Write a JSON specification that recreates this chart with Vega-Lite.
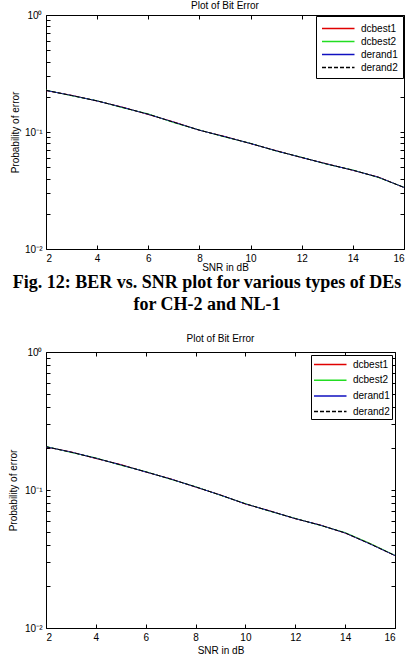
{
  "$schema": "https://vega.github.io/schema/vega-lite/v6.json",
  "padding": {"left": 8, "right": 4, "top": 0, "bottom": 0},
  "background": "white",
  "bounds": "flush",
  "spacing": 10,
  "config": {
    "font": "Liberation Sans",
    "view": {"stroke": "black", "strokeWidth": 1},
    "axis": {"grid": false, "domain": false, "ticks": true, "tickColor": "black", "tickSize": 4, "offset": -4, "labelColor": "black", "titleColor": "black", "labelFont": "Liberation Sans", "titleFont": "Liberation Sans", "labelFontSize": 10, "titleFontSize": 10, "titleFontWeight": "normal", "labelPadding": 4, "titlePadding": 2},
    "title": {"font": "Liberation Sans", "fontSize": 10, "fontWeight": "normal", "color": "black"},
    "legend": {"title": null, "orient": "top-right", "offset": 1, "symbolType": "M-1,0H4", "symbolSize": 169, "symbolStrokeWidth": 1.5, "labelOffset": 25, "labelFont": "Liberation Sans", "labelFontSize": 10, "labelColor": "black", "strokeColor": "black", "fillColor": "white", "padding": 5, "rowPadding": 0, "labelLimit": 100}
  },
  "datasets": {
    "top": [
      {"snr": 2, "ber": 0.226, "series": "dcbest1"}, {"snr": 3, "ber": 0.206, "series": "dcbest1"}, {"snr": 4, "ber": 0.184, "series": "dcbest1"}, {"snr": 5, "ber": 0.163, "series": "dcbest1"}, {"snr": 6, "ber": 0.141, "series": "dcbest1"}, {"snr": 7, "ber": 0.122, "series": "dcbest1"}, {"snr": 8, "ber": 0.1035, "series": "dcbest1"}, {"snr": 9, "ber": 0.0915, "series": "dcbest1"}, {"snr": 10, "ber": 0.0795, "series": "dcbest1"}, {"snr": 11, "ber": 0.0693, "series": "dcbest1"}, {"snr": 12, "ber": 0.0604, "series": "dcbest1"}, {"snr": 13, "ber": 0.0534, "series": "dcbest1"}, {"snr": 14, "ber": 0.047, "series": "dcbest1"}, {"snr": 15, "ber": 0.0412, "series": "dcbest1"}, {"snr": 16, "ber": 0.0335, "series": "dcbest1"},
      {"snr": 2, "ber": 0.228, "series": "dcbest2"}, {"snr": 3, "ber": 0.204, "series": "dcbest2"}, {"snr": 4, "ber": 0.185, "series": "dcbest2"}, {"snr": 5, "ber": 0.161, "series": "dcbest2"}, {"snr": 6, "ber": 0.143, "series": "dcbest2"}, {"snr": 7, "ber": 0.12, "series": "dcbest2"}, {"snr": 8, "ber": 0.104, "series": "dcbest2"}, {"snr": 9, "ber": 0.0905, "series": "dcbest2"}, {"snr": 10, "ber": 0.08, "series": "dcbest2"}, {"snr": 11, "ber": 0.0688, "series": "dcbest2"}, {"snr": 12, "ber": 0.0608, "series": "dcbest2"}, {"snr": 13, "ber": 0.0529, "series": "dcbest2"}, {"snr": 14, "ber": 0.0474, "series": "dcbest2"}, {"snr": 15, "ber": 0.0408, "series": "dcbest2"}, {"snr": 16, "ber": 0.0337, "series": "dcbest2"},
      {"snr": 2, "ber": 0.2265, "series": "derand1"}, {"snr": 3, "ber": 0.2055, "series": "derand1"}, {"snr": 4, "ber": 0.1842, "series": "derand1"}, {"snr": 5, "ber": 0.1625, "series": "derand1"}, {"snr": 6, "ber": 0.1415, "series": "derand1"}, {"snr": 7, "ber": 0.1215, "series": "derand1"}, {"snr": 8, "ber": 0.1036, "series": "derand1"}, {"snr": 9, "ber": 0.0912, "series": "derand1"}, {"snr": 10, "ber": 0.0797, "series": "derand1"}, {"snr": 11, "ber": 0.0691, "series": "derand1"}, {"snr": 12, "ber": 0.0605, "series": "derand1"}, {"snr": 13, "ber": 0.0532, "series": "derand1"}, {"snr": 14, "ber": 0.0471, "series": "derand1"}, {"snr": 15, "ber": 0.0411, "series": "derand1"}, {"snr": 16, "ber": 0.0336, "series": "derand1"},
      {"snr": 2, "ber": 0.227, "series": "derand2"}, {"snr": 3, "ber": 0.205, "series": "derand2"}, {"snr": 4, "ber": 0.1845, "series": "derand2"}, {"snr": 5, "ber": 0.162, "series": "derand2"}, {"snr": 6, "ber": 0.142, "series": "derand2"}, {"snr": 7, "ber": 0.121, "series": "derand2"}, {"snr": 8, "ber": 0.1037, "series": "derand2"}, {"snr": 9, "ber": 0.091, "series": "derand2"}, {"snr": 10, "ber": 0.0798, "series": "derand2"}, {"snr": 11, "ber": 0.069, "series": "derand2"}, {"snr": 12, "ber": 0.0606, "series": "derand2"}, {"snr": 13, "ber": 0.0531, "series": "derand2"}, {"snr": 14, "ber": 0.0472, "series": "derand2"}, {"snr": 15, "ber": 0.041, "series": "derand2"}, {"snr": 16, "ber": 0.0336, "series": "derand2"}
    ],
    "bottom": [
      {"snr": 2, "ber": 0.205, "series": "dcbest1"}, {"snr": 3, "ber": 0.189, "series": "dcbest1"}, {"snr": 4, "ber": 0.169, "series": "dcbest1"}, {"snr": 5, "ber": 0.153, "series": "dcbest1"}, {"snr": 6, "ber": 0.135, "series": "dcbest1"}, {"snr": 7, "ber": 0.1205, "series": "dcbest1"}, {"snr": 8, "ber": 0.105, "series": "dcbest1"}, {"snr": 9, "ber": 0.0921, "series": "dcbest1"}, {"snr": 10, "ber": 0.0791, "series": "dcbest1"}, {"snr": 11, "ber": 0.0705, "series": "dcbest1"}, {"snr": 12, "ber": 0.0619, "series": "dcbest1"}, {"snr": 13, "ber": 0.0558, "series": "dcbest1"}, {"snr": 14, "ber": 0.0487, "series": "dcbest1"}, {"snr": 15, "ber": 0.0409, "series": "dcbest1"}, {"snr": 16, "ber": 0.0334, "series": "dcbest1"},
      {"snr": 2, "ber": 0.207, "series": "dcbest2"}, {"snr": 3, "ber": 0.187, "series": "dcbest2"}, {"snr": 4, "ber": 0.171, "series": "dcbest2"}, {"snr": 5, "ber": 0.151, "series": "dcbest2"}, {"snr": 6, "ber": 0.136, "series": "dcbest2"}, {"snr": 7, "ber": 0.1195, "series": "dcbest2"}, {"snr": 8, "ber": 0.1058, "series": "dcbest2"}, {"snr": 9, "ber": 0.0915, "series": "dcbest2"}, {"snr": 10, "ber": 0.0797, "series": "dcbest2"}, {"snr": 11, "ber": 0.0699, "series": "dcbest2"}, {"snr": 12, "ber": 0.0623, "series": "dcbest2"}, {"snr": 13, "ber": 0.0554, "series": "dcbest2"}, {"snr": 14, "ber": 0.0492, "series": "dcbest2"}, {"snr": 15, "ber": 0.0411, "series": "dcbest2"}, {"snr": 16, "ber": 0.0336, "series": "dcbest2"},
      {"snr": 2, "ber": 0.2055, "series": "derand1"}, {"snr": 3, "ber": 0.1885, "series": "derand1"}, {"snr": 4, "ber": 0.1698, "series": "derand1"}, {"snr": 5, "ber": 0.1522, "series": "derand1"}, {"snr": 6, "ber": 0.1352, "series": "derand1"}, {"snr": 7, "ber": 0.1202, "series": "derand1"}, {"snr": 8, "ber": 0.1052, "series": "derand1"}, {"snr": 9, "ber": 0.0919, "series": "derand1"}, {"snr": 10, "ber": 0.0793, "series": "derand1"}, {"snr": 11, "ber": 0.0703, "series": "derand1"}, {"snr": 12, "ber": 0.062, "series": "derand1"}, {"snr": 13, "ber": 0.0557, "series": "derand1"}, {"snr": 14, "ber": 0.0488, "series": "derand1"}, {"snr": 15, "ber": 0.0406, "series": "derand1"}, {"snr": 16, "ber": 0.0335, "series": "derand1"},
      {"snr": 2, "ber": 0.206, "series": "derand2"}, {"snr": 3, "ber": 0.188, "series": "derand2"}, {"snr": 4, "ber": 0.17, "series": "derand2"}, {"snr": 5, "ber": 0.152, "series": "derand2"}, {"snr": 6, "ber": 0.1355, "series": "derand2"}, {"snr": 7, "ber": 0.12, "series": "derand2"}, {"snr": 8, "ber": 0.1054, "series": "derand2"}, {"snr": 9, "ber": 0.0918, "series": "derand2"}, {"snr": 10, "ber": 0.0794, "series": "derand2"}, {"snr": 11, "ber": 0.0702, "series": "derand2"}, {"snr": 12, "ber": 0.0621, "series": "derand2"}, {"snr": 13, "ber": 0.0556, "series": "derand2"}, {"snr": 14, "ber": 0.0489, "series": "derand2"}, {"snr": 15, "ber": 0.0407, "series": "derand2"}, {"snr": 16, "ber": 0.0335, "series": "derand2"}
    ],
    "caption": [
      {"line": 1, "text": "Fig. 12: BER vs. SNR plot for various types of DEs"},
      {"line": 2, "text": "for CH-2 and NL-1"}
    ]
  },
  "vconcat": [
    {
      "width": 358,
      "height": 234,
      "title": {"text": "Plot of Bit Error", "offset": -1},
      "data": {"name": "top"},
      "layer": [
        {
          "mark": {"type": "line", "strokeWidth": 1},
          "encoding": {
            "x": {"field": "snr", "type": "quantitative", "scale": {"domain": [2, 16], "nice": false}, "axis": {"values": [2, 4, 6, 8, 10, 12, 14, 16], "title": "SNR in dB", "titlePadding": -1}},
            "y": {"field": "ber", "type": "quantitative", "scale": {"type": "log", "domain": [0.01, 1], "nice": false}, "axis": {"values": [0.01, 0.02, 0.03, 0.04, 0.05, 0.06, 0.07, 0.08, 0.09, 0.1, 0.2, 0.3, 0.4, 0.5, 0.6, 0.7, 0.8, 0.9, 1], "labelExpr": "datum.value == 1 ? '10⁰' : datum.value == 0.1 ? '10⁻¹' : datum.value == 0.01 ? '10⁻²' : ''", "title": "Probability of error", "titlePadding": 4}},
            "color": {"field": "series", "type": "nominal", "scale": {"domain": ["dcbest1", "dcbest2", "derand1", "derand2"], "range": ["#e00000", "#22dd22", "#1010c0", "#000000"]}},
            "strokeDash": {"field": "series", "type": "nominal", "scale": {"domain": ["dcbest1", "dcbest2", "derand1", "derand2"], "range": [[1, 0], [1, 0], [1, 0], [4, 2]]}}
          }
        },
        {
          "mark": {"type": "line", "opacity": 0},
          "encoding": {
            "x": {"field": "snr", "type": "quantitative", "scale": {"domain": [2, 16], "nice": false}, "axis": {"orient": "top", "values": [2, 4, 6, 8, 10, 12, 14, 16], "labels": false, "title": null}},
            "y": {"field": "ber", "type": "quantitative", "scale": {"type": "log", "domain": [0.01, 1], "nice": false}, "axis": {"orient": "right", "values": [0.01, 0.02, 0.03, 0.04, 0.05, 0.06, 0.07, 0.08, 0.09, 0.1, 0.2, 0.3, 0.4, 0.5, 0.6, 0.7, 0.8, 0.9, 1], "labels": false, "title": null}}
          }
        }
      ],
      "resolve": {"axis": {"x": "independent", "y": "independent"}}
    },
    {
      "width": 322,
      "height": 83,
      "view": {"stroke": null},
      "data": {"name": "caption"},
      "mark": {"type": "text", "font": "Liberation Serif", "fontSize": 18, "fontWeight": "bold", "color": "black", "baseline": "middle"},
      "encoding": {
        "y": {"field": "line", "type": "quantitative", "scale": {"domain": [-0.0909, 3.6818], "reverse": true, "nice": false, "zero": false}, "axis": null},
        "text": {"field": "text"}
      }
    },
    {
      "width": 349,
      "height": 276,
      "title": {"text": "Plot of Bit Error", "offset": 3},
      "data": {"name": "bottom"},
      "layer": [
        {
          "mark": {"type": "line", "strokeWidth": 1},
          "encoding": {
            "x": {"field": "snr", "type": "quantitative", "scale": {"domain": [2, 16], "nice": false}, "axis": {"values": [2, 4, 6, 8, 10, 12, 14, 16], "title": "SNR in dB", "titlePadding": 3}},
            "y": {"field": "ber", "type": "quantitative", "scale": {"type": "log", "domain": [0.01, 1], "nice": false}, "axis": {"values": [0.01, 0.02, 0.03, 0.04, 0.05, 0.06, 0.07, 0.08, 0.09, 0.1, 0.2, 0.3, 0.4, 0.5, 0.6, 0.7, 0.8, 0.9, 1], "labelExpr": "datum.value == 1 ? '10⁰' : datum.value == 0.1 ? '10⁻¹' : datum.value == 0.01 ? '10⁻²' : ''", "title": "Probability of error", "titlePadding": 6}},
            "color": {"field": "series", "type": "nominal", "scale": {"domain": ["dcbest1", "dcbest2", "derand1", "derand2"], "range": ["#e00000", "#22dd22", "#1010c0", "#000000"]}, "legend": {"rowPadding": 2.7, "offset": 3, "padding": 2}},
            "strokeDash": {"field": "series", "type": "nominal", "scale": {"domain": ["dcbest1", "dcbest2", "derand1", "derand2"], "range": [[1, 0], [1, 0], [1, 0], [4, 2]]}, "legend": {"rowPadding": 2.7, "offset": 3, "padding": 2}}
          }
        },
        {
          "mark": {"type": "line", "opacity": 0},
          "encoding": {
            "x": {"field": "snr", "type": "quantitative", "scale": {"domain": [2, 16], "nice": false}, "axis": {"orient": "top", "values": [2, 4, 6, 8, 10, 12, 14, 16], "labels": false, "title": null}},
            "y": {"field": "ber", "type": "quantitative", "scale": {"type": "log", "domain": [0.01, 1], "nice": false}, "axis": {"orient": "right", "values": [0.01, 0.02, 0.03, 0.04, 0.05, 0.06, 0.07, 0.08, 0.09, 0.1, 0.2, 0.3, 0.4, 0.5, 0.6, 0.7, 0.8, 0.9, 1], "labels": false, "title": null}}
          }
        }
      ],
      "resolve": {"axis": {"x": "independent", "y": "independent"}}
    }
  ],
  "resolve": {"scale": {"color": "independent", "strokeDash": "independent", "x": "independent", "y": "independent"}, "legend": {"color": "independent", "strokeDash": "independent"}}
}
